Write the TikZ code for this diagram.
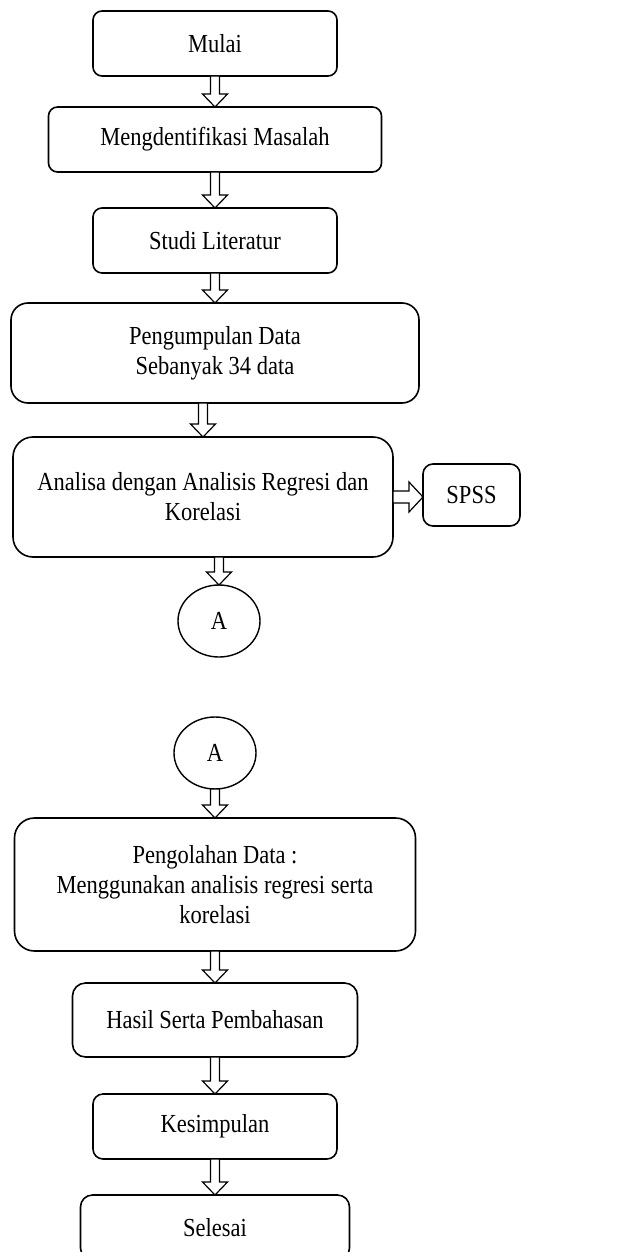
\documentclass[tikz,border=0pt]{standalone}
\usepackage{fontspec}
\setmainfont{Liberation Serif}[FakeStretch=0.865]
\usetikzlibrary{positioning, shapes.geometric, calc}

\newcommand{\blockdown}[2]{%
  \draw[hollow] let \p1 = (#1.south), \p2 = (#2.north) in
    (\x2-4.5pt,\y1) -- (\x2+4.5pt,\y1) -- (\x2+4.5pt,\y2+13pt) -- (\x2+12.5pt,\y2+13pt)
    -- (\x2,\y2) -- (\x2-12.5pt,\y2+13pt) -- (\x2-4.5pt,\y2+13pt) -- cycle;}
\newcommand{\blockright}[2]{%
  \draw[hollow] let \p1 = (#1.east), \p2 = (#2.west) in
    (\x1,\y1-6pt) -- (\x2-14pt,\y1-6pt) -- (\x2-14pt,\y1-15pt) -- (\x2,\y1)
    -- (\x2-14pt,\y1+15pt) -- (\x2-14pt,\y1+6pt) -- (\x1,\y1+6pt) -- cycle;}

\begin{document}
\begin{tikzpicture}[x=1pt, y=1pt,
    proc/.style={rectangle, draw, line width=1.6pt, align=center, inner sep=0pt,
      outer sep=0pt, font=\fontsize{26}{30}\selectfont},
    conn/.style={ellipse, draw, line width=1.4pt, inner sep=0pt, outer sep=0pt,
      minimum width=82pt, minimum height=72pt, font=\fontsize{26}{30}\selectfont},
    hollow/.style={draw, line width=1.2pt, fill=white, line join=miter}]

  \useasboundingbox (0,0) rectangle (617,-1252);
  \clip (0,0) rectangle (617,-1252);

  \node[proc, minimum width=244pt, minimum height=65pt, rounded corners=9pt]
    (mulai) at (215,-43.5) {Mulai};
  \node[proc, minimum width=333pt, minimum height=65pt, rounded corners=9pt,
    below=31pt of mulai] (masalah) {Mengdentifikasi Masalah};
  \node[proc, minimum width=244pt, minimum height=65pt, rounded corners=9pt,
    below=36pt of masalah] (studi) {Studi Literatur};
  \node[proc, minimum width=408pt, minimum height=100pt, rounded corners=17pt,
    below=30pt of studi] (kumpul) {Pengumpulan Data\\ Sebanyak 34 data};
  \node[proc, minimum width=380pt, minimum height=120pt, rounded corners=20pt,
    below=34pt of kumpul.south west, anchor=north west, xshift=2pt] (analisa)
    {Analisa dengan Analisis Regresi dan\\Korelasi};
  \node[proc, minimum width=97pt, minimum height=62pt, rounded corners=10pt,
    right=30pt of analisa, yshift=2pt] (spss) {SPSS};
  \node[conn, below=28pt of analisa, xshift=16pt] (A1) {A};

  \node[conn, below=60pt of A1, xshift=-4pt] (A2) {A};
  \node[proc, minimum width=401pt, minimum height=133pt, rounded corners=20pt,
    below=29pt of A2] (olah)
    {Pengolahan Data :\\Menggunakan analisis regresi serta\\korelasi};
  \node[proc, minimum width=285pt, minimum height=74pt, rounded corners=13pt,
    below=32pt of olah] (hasil) {Hasil Serta Pembahasan};
  \node[proc, minimum width=244pt, minimum height=65pt, rounded corners=10pt,
    below=37pt of hasil] (simpul) {Kesimpulan};
  \node[proc, minimum width=269pt, minimum height=65pt, rounded corners=12pt,
    below=36pt of simpul] (selesai) {Selesai};

  \blockdown{mulai}{masalah}
  \blockdown{masalah}{studi}
  \blockdown{studi}{kumpul}
  \blockdown{kumpul}{analisa}
  \blockright{analisa}{spss}
  \blockdown{analisa}{A1}
  \blockdown{A2}{olah}
  \blockdown{olah}{hasil}
  \blockdown{hasil}{simpul}
  \blockdown{simpul}{selesai}
\end{tikzpicture}
\end{document}
